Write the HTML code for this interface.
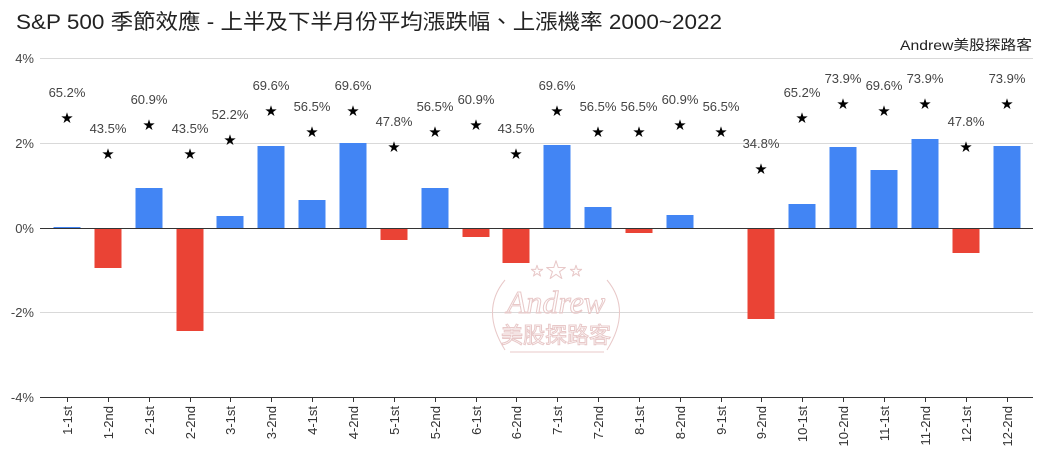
<!DOCTYPE html>
<html><head><meta charset="utf-8"><style>
body{margin:0;background:#fff;}
svg{display:block;font-family:"Liberation Sans","Noto Sans CJK TC",sans-serif;}
</style></head><body>
<svg width="1052" height="460" viewBox="0 0 1052 460" xmlns="http://www.w3.org/2000/svg">
<rect width="1052" height="460" fill="#fff"/>
<text x="16" y="29" font-size="21" fill="#222" textLength="706" lengthAdjust="spacingAndGlyphs">S&amp;P 500 季節效應 - 上半及下半月份平均漲跌幅、上漲機率 2000~2022</text>
<text x="1032" y="50" font-size="14" fill="#222" text-anchor="end" textLength="132" lengthAdjust="spacingAndGlyphs">Andrew美股探路客</text>
<g stroke="#d9d9d9" stroke-width="1">
<line x1="40" y1="58.5" x2="1033" y2="58.5"/>
<line x1="40" y1="143.5" x2="1033" y2="143.5"/>
<line x1="40" y1="312.5" x2="1033" y2="312.5"/>
</g>
<g font-size="13" fill="#444" text-anchor="end">
<text x="34" y="63">4%</text><text x="34" y="148">2%</text><text x="34" y="233">0%</text><text x="34" y="317">-2%</text><text x="34" y="402">-4%</text>
</g>
<g fill="none" stroke="#e8c8c8" stroke-width="1" text-anchor="middle">
<text x="556" y="313" font-size="32" font-style="italic" font-family="Liberation Serif,serif">Andrew</text>
<text x="556" y="343" font-size="22">美股探路客</text>
<text x="556" y="277" font-size="20">★</text><text x="537" y="275" font-size="12">★</text><text x="576" y="275" font-size="12">★</text>
<line x1="510" y1="352" x2="604" y2="352"/>
<path d="M505 280 Q480 310 505 350 M607 280 Q632 310 607 350"/>
</g>
<g>
<rect x="53.5" y="227" width="27" height="1" fill="#4285f4"/>
<rect x="94.5" y="228" width="27" height="40" fill="#ea4335"/>
<rect x="135.5" y="188" width="27" height="40" fill="#4285f4"/>
<rect x="176.5" y="228" width="27" height="103" fill="#ea4335"/>
<rect x="216.5" y="216" width="27" height="12" fill="#4285f4"/>
<rect x="257.5" y="146" width="27" height="82" fill="#4285f4"/>
<rect x="298.5" y="200" width="27" height="28" fill="#4285f4"/>
<rect x="339.5" y="143" width="27" height="85" fill="#4285f4"/>
<rect x="380.5" y="228" width="27" height="12" fill="#ea4335"/>
<rect x="421.5" y="188" width="27" height="40" fill="#4285f4"/>
<rect x="462.5" y="228" width="27" height="9" fill="#ea4335"/>
<rect x="502.5" y="228" width="27" height="35" fill="#ea4335"/>
<rect x="543.5" y="145" width="27" height="83" fill="#4285f4"/>
<rect x="584.5" y="207" width="27" height="21" fill="#4285f4"/>
<rect x="625.5" y="228" width="27" height="5" fill="#ea4335"/>
<rect x="666.5" y="215" width="27" height="13" fill="#4285f4"/>
<rect x="747.5" y="228" width="27" height="91" fill="#ea4335"/>
<rect x="788.5" y="204" width="27" height="24" fill="#4285f4"/>
<rect x="829.5" y="147" width="27" height="81" fill="#4285f4"/>
<rect x="870.5" y="170" width="27" height="58" fill="#4285f4"/>
<rect x="911.5" y="139" width="27" height="89" fill="#4285f4"/>
<rect x="952.5" y="228" width="27" height="25" fill="#ea4335"/>
<rect x="993.5" y="146" width="27" height="82" fill="#4285f4"/>
</g>
<line x1="40" y1="228.5" x2="1033" y2="228.5" stroke="#333" stroke-width="1"/>
<line x1="40" y1="397.5" x2="1033" y2="397.5" stroke="#333" stroke-width="1"/>
<g stroke="#333">
<line x1="67.5" y1="397" x2="67.5" y2="402"/><line x1="108.5" y1="397" x2="108.5" y2="402"/><line x1="149.5" y1="397" x2="149.5" y2="402"/><line x1="190.5" y1="397" x2="190.5" y2="402"/><line x1="230.5" y1="397" x2="230.5" y2="402"/><line x1="271.5" y1="397" x2="271.5" y2="402"/><line x1="312.5" y1="397" x2="312.5" y2="402"/><line x1="353.5" y1="397" x2="353.5" y2="402"/><line x1="394.5" y1="397" x2="394.5" y2="402"/><line x1="435.5" y1="397" x2="435.5" y2="402"/><line x1="476.5" y1="397" x2="476.5" y2="402"/><line x1="516.5" y1="397" x2="516.5" y2="402"/><line x1="557.5" y1="397" x2="557.5" y2="402"/><line x1="598.5" y1="397" x2="598.5" y2="402"/><line x1="639.5" y1="397" x2="639.5" y2="402"/><line x1="680.5" y1="397" x2="680.5" y2="402"/><line x1="721.5" y1="397" x2="721.5" y2="402"/><line x1="761.5" y1="397" x2="761.5" y2="402"/><line x1="802.5" y1="397" x2="802.5" y2="402"/><line x1="843.5" y1="397" x2="843.5" y2="402"/><line x1="884.5" y1="397" x2="884.5" y2="402"/><line x1="925.5" y1="397" x2="925.5" y2="402"/><line x1="966.5" y1="397" x2="966.5" y2="402"/><line x1="1007.5" y1="397" x2="1007.5" y2="402"/>
</g>
<g font-size="13" fill="#333" text-anchor="end">
<text transform="translate(72,406) rotate(-90)">1-1st</text>
<text transform="translate(113,406) rotate(-90)">1-2nd</text>
<text transform="translate(154,406) rotate(-90)">2-1st</text>
<text transform="translate(195,406) rotate(-90)">2-2nd</text>
<text transform="translate(235,406) rotate(-90)">3-1st</text>
<text transform="translate(276,406) rotate(-90)">3-2nd</text>
<text transform="translate(317,406) rotate(-90)">4-1st</text>
<text transform="translate(358,406) rotate(-90)">4-2nd</text>
<text transform="translate(399,406) rotate(-90)">5-1st</text>
<text transform="translate(440,406) rotate(-90)">5-2nd</text>
<text transform="translate(481,406) rotate(-90)">6-1st</text>
<text transform="translate(521,406) rotate(-90)">6-2nd</text>
<text transform="translate(562,406) rotate(-90)">7-1st</text>
<text transform="translate(603,406) rotate(-90)">7-2nd</text>
<text transform="translate(644,406) rotate(-90)">8-1st</text>
<text transform="translate(685,406) rotate(-90)">8-2nd</text>
<text transform="translate(726,406) rotate(-90)">9-1st</text>
<text transform="translate(766,406) rotate(-90)">9-2nd</text>
<text transform="translate(807,406) rotate(-90)">10-1st</text>
<text transform="translate(848,406) rotate(-90)">10-2nd</text>
<text transform="translate(889,406) rotate(-90)">11-1st</text>
<text transform="translate(930,406) rotate(-90)">11-2nd</text>
<text transform="translate(971,406) rotate(-90)">12-1st</text>
<text transform="translate(1012,406) rotate(-90)">12-2nd</text>
</g>
<g font-size="13" fill="#444" text-anchor="middle">
<text x="67" y="97">65.2%</text>
<text x="108" y="133">43.5%</text>
<text x="149" y="104">60.9%</text>
<text x="190" y="133">43.5%</text>
<text x="230" y="119">52.2%</text>
<text x="271" y="90">69.6%</text>
<text x="312" y="111">56.5%</text>
<text x="353" y="90">69.6%</text>
<text x="394" y="126">47.8%</text>
<text x="435" y="111">56.5%</text>
<text x="476" y="104">60.9%</text>
<text x="516" y="133">43.5%</text>
<text x="557" y="90">69.6%</text>
<text x="598" y="111">56.5%</text>
<text x="639" y="111">56.5%</text>
<text x="680" y="104">60.9%</text>
<text x="721" y="111">56.5%</text>
<text x="761" y="148">34.8%</text>
<text x="802" y="97">65.2%</text>
<text x="843" y="83">73.9%</text>
<text x="884" y="90">69.6%</text>
<text x="925" y="83">73.9%</text>
<text x="966" y="126">47.8%</text>
<text x="1007" y="83">73.9%</text>
</g>
<g font-size="12" fill="#000" text-anchor="middle">
<text x="67" y="122">★</text>
<text x="108" y="158">★</text>
<text x="149" y="129">★</text>
<text x="190" y="158">★</text>
<text x="230" y="144">★</text>
<text x="271" y="115">★</text>
<text x="312" y="136">★</text>
<text x="353" y="115">★</text>
<text x="394" y="151">★</text>
<text x="435" y="136">★</text>
<text x="476" y="129">★</text>
<text x="516" y="158">★</text>
<text x="557" y="115">★</text>
<text x="598" y="136">★</text>
<text x="639" y="136">★</text>
<text x="680" y="129">★</text>
<text x="721" y="136">★</text>
<text x="761" y="173">★</text>
<text x="802" y="122">★</text>
<text x="843" y="108">★</text>
<text x="884" y="115">★</text>
<text x="925" y="108">★</text>
<text x="966" y="151">★</text>
<text x="1007" y="108">★</text>
</g>
</svg>
</body></html>
